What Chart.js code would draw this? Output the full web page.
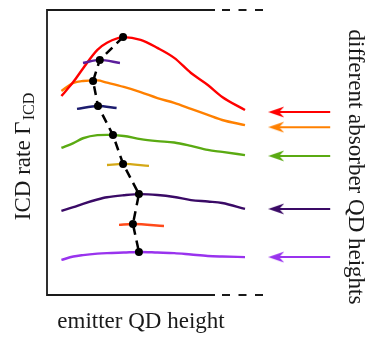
<!DOCTYPE html>
<html>
<head>
<meta charset="utf-8">
<script src="https://cdn.jsdelivr.net/npm/chart.js@4"></script>
<style>
  body { margin: 0; background: #fff; }
  canvas { display: block; }
</style>
</head>
<body>
<canvas id="icdChart" width="368" height="338"></canvas>
<script>
// emitter height grid shared by the long curves
const xLong = [0.6, 1.1, 1.5, 2.1, 2.5, 3.2, 3.9, 4.6, 5.3, 6.0, 6.7, 7.3, 8.25];

// ICD rate vs emitter height, one curve per absorber height
const rateRed    = [6.98, 7.48, 7.95, 8.60, 8.85, 9.05, 8.95, 8.67, 8.32, 7.79, 7.37, 6.95, 6.49];
const rateOrange = [7.16, 7.44, 7.51, 7.53, 7.45, 7.30, 7.12, 6.91, 6.74, 6.53, 6.32, 6.14, 5.96];
const rateGreen  = [5.16, 5.33, 5.50, 5.61, 5.62, 5.58, 5.47, 5.40, 5.35, 5.23, 5.09, 5.02, 4.91];
const rateIndigo = [2.95, 3.08, 3.20, 3.35, 3.43, 3.50, 3.54, 3.51, 3.44, 3.33, 3.28, 3.23, 3.02];
const rateLilac  = [1.23, 1.35, 1.40, 1.45, 1.47, 1.49, 1.51, 1.49, 1.47, 1.42, 1.37, 1.35, 1.33];

// short pieces around the maximum for the in-between heights
const xViolet = [1.5, 2.2, 3.04],   rateViolet = [8.14, 8.25, 8.14];
const xNavy   = [1.25, 2.125, 2.9], rateNavy   = [6.53, 6.63, 6.56];
const xGold   = [2.5, 3.17, 4.25],  rateGold   = [4.56, 4.60, 4.53];
const xTomato = [3.0, 3.58, 4.875], rateTomato = [2.46, 2.49, 2.42];

// position of the maximum for each absorber height
const peakX = [3.17, 2.2, 1.92, 2.125, 2.75, 3.17, 3.83, 3.58, 3.83];
const peakY = [9.05, 8.25, 7.51, 6.63, 5.61, 4.60, 3.54, 2.49, 1.51];

// arrows on the right
const arrowY = [6.42, 5.89, 4.88, 3.02, 1.33];
const arrowColors = ['#ff0000', '#ff8000', '#5aaa12', '#3a0a66', '#9933ee'];
const arrowX = [9.55, 11.8];

const axisEnd = 9;      // where the dashed part of the frame stops
const solidEnd = 7;     // where the solid part of the frame stops

const labelFont = '23px "Liberation Serif"';
const subFont = '16px "Liberation Serif"';

function pts(xs, ys) {
    return xs.map((x, i) => ({ x: x, y: ys[i] }));
}

function curve(xs, ys, color) {
    return {
        data: pts(xs, ys),
        borderColor: color,
        borderWidth: 2.4,
        pointRadius: 0,
        cubicInterpolationMode: 'monotone',
        fill: false,
        clip: false
    };
}

// stealth style arrow head
function makeHead(color) {
    const c = document.createElement('canvas');
    c.width = 16;
    c.height = 12;
    const g = c.getContext('2d');
    g.fillStyle = color;
    g.beginPath();
    g.moveTo(0, 6);
    g.lineTo(16, 0.5);
    g.lineTo(11, 6);
    g.lineTo(16, 11.5);
    g.closePath();
    g.fill();
    return c;
}

const datasets = [];

datasets.push({
    data: pts(peakX, peakY),
    borderColor: '#000',
    backgroundColor: '#000',
    borderWidth: 2.5,
    borderDash: [9, 6],
    pointRadius: 4,
    pointBorderWidth: 0,
    tension: 0,
    fill: false,
    clip: false
});

datasets.push(curve(xViolet, rateViolet, '#5c1e9c'));
datasets.push(curve(xNavy, rateNavy, '#1c1c6e'));
datasets.push(curve(xGold, rateGold, '#d4a817'));
datasets.push(curve(xTomato, rateTomato, '#ff4a1a'));

datasets.push(curve(xLong, rateRed, '#ff0000'));
datasets.push(curve(xLong, rateOrange, '#ff8000'));
datasets.push(curve(xLong, rateGreen, '#5aaa12'));
datasets.push(curve(xLong, rateIndigo, '#3a0a66'));
datasets.push(curve(xLong, rateLilac, '#9933ee'));

arrowY.forEach((y, i) => {
    datasets.push({
        data: [{ x: arrowX[0], y: y }, { x: arrowX[1], y: y }],
        borderColor: arrowColors[i],
        borderWidth: 2,
        pointStyle: makeHead(arrowColors[i]),
        pointRadius: [8, 0],
        tension: 0,
        fill: false,
        clip: false
    });
});

// frame and axis texts
const framePlugin = {
    id: 'frame',
    afterDraw(chart) {
        const ctx = chart.ctx;
        const xs = chart.scales.x, ys = chart.scales.y;
        const x0 = xs.getPixelForValue(0);
        const xSolid = xs.getPixelForValue(solidEnd);
        const xEnd = xs.getPixelForValue(axisEnd);
        const yTop = ys.getPixelForValue(10);
        const yBot = ys.getPixelForValue(0);

        ctx.save();
        ctx.strokeStyle = '#1a1a1a';
        ctx.lineWidth = 1.8;
        ctx.beginPath();
        ctx.moveTo(xSolid, yTop);
        ctx.lineTo(x0, yTop);
        ctx.lineTo(x0, yBot);
        ctx.lineTo(xSolid, yBot);
        ctx.stroke();

        ctx.setLineDash([8, 8.5]);
        ctx.beginPath();
        ctx.moveTo(xSolid + 7, yTop);
        ctx.lineTo(xEnd, yTop);
        ctx.moveTo(xSolid + 7, yBot);
        ctx.lineTo(xEnd, yBot);
        ctx.stroke();
        ctx.setLineDash([]);

        ctx.fillStyle = '#1a1a1a';
        ctx.font = labelFont;
        ctx.textBaseline = 'alphabetic';

        // bottom label
        ctx.textAlign = 'center';
        ctx.fillText('emitter QD height', 141, 328);

        // right label, reading downwards
        ctx.save();
        ctx.translate(349, 167);
        ctx.rotate(Math.PI / 2);
        ctx.fillText('different absorber QD heights', 0, 0);
        ctx.restore();

        // left label with subscript
        ctx.save();
        ctx.translate(30, 157);
        ctx.rotate(-Math.PI / 2);
        const main = 'ICD rate \u0393';
        const sub = 'ICD';
        ctx.font = labelFont;
        const wMain = ctx.measureText(main).width;
        ctx.font = subFont;
        const wSub = ctx.measureText(sub).width;
        const start = -(wMain + wSub) / 2;
        ctx.textAlign = 'left';
        ctx.font = labelFont;
        ctx.fillText(main, start, 0);
        ctx.font = subFont;
        ctx.fillText(sub, start + wMain + 1, 4);
        ctx.restore();

        ctx.restore();
    }
};

const chart = new Chart(document.getElementById('icdChart').getContext('2d'), {
    type: 'line',
    data: { datasets: datasets },
    options: {
        responsive: false,
        animation: false,
        devicePixelRatio: 1,
        layout: { padding: { left: 47, right: 33, top: 10, bottom: 43 } },
        scales: {
            x: { type: 'linear', min: 0, max: 12, display: false },
            y: { type: 'linear', min: 0, max: 10, display: false }
        },
        plugins: {
            legend: { display: false },
            tooltip: { enabled: false }
        }
    },
    plugins: [framePlugin]
});
</script>
</body>
</html>
